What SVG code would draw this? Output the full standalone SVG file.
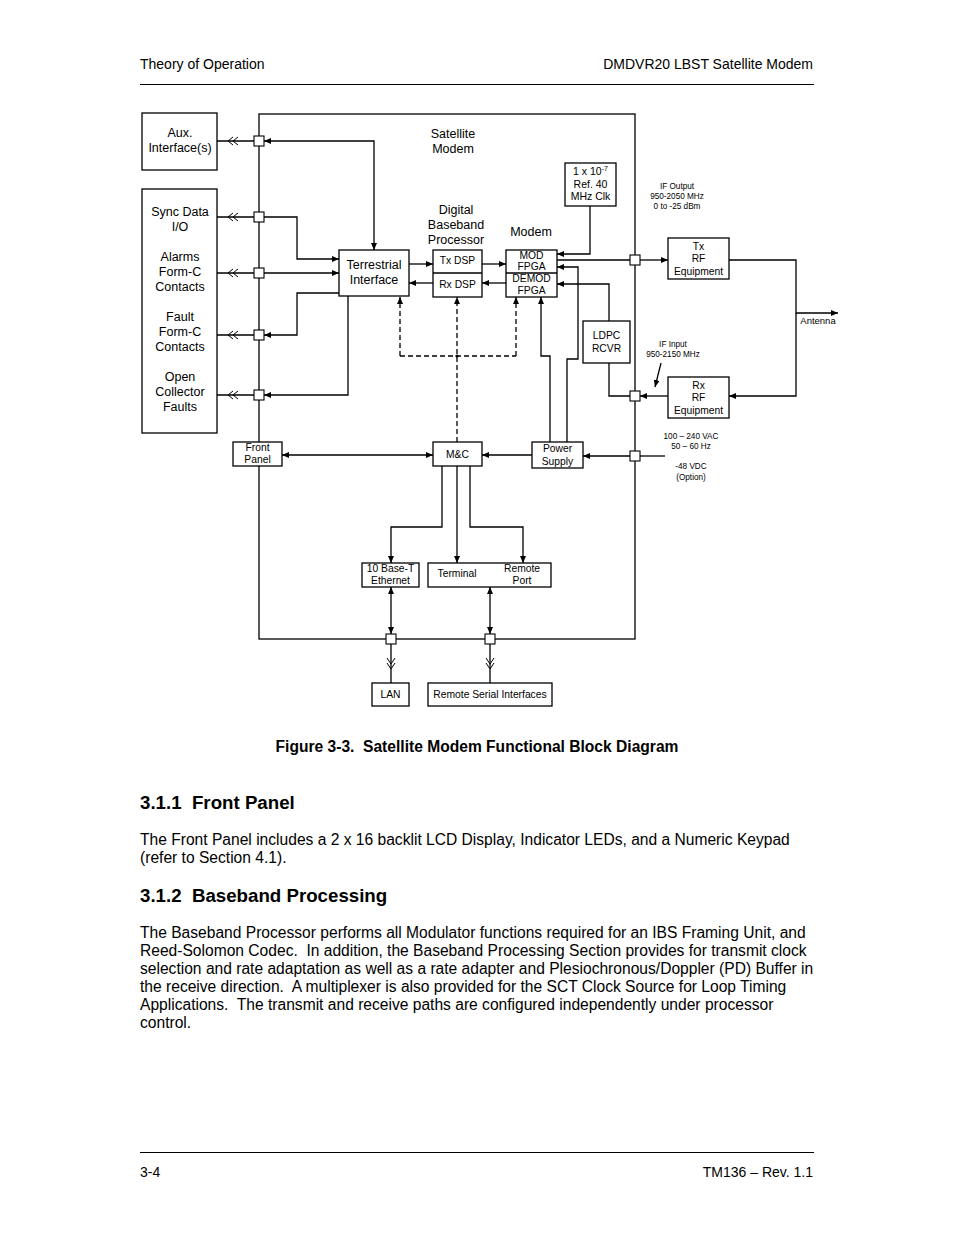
<svg xmlns="http://www.w3.org/2000/svg" width="954" height="1235" viewBox="0 0 954 1235">
<style>
text{font-family:"Liberation Sans",Arial,sans-serif;fill:#000}
.c{text-anchor:middle}
.f12{font-size:12.5px}
.f10{font-size:10.3px}
.f8{font-size:8.2px}
.ln{stroke:#000;stroke-width:1.3;fill:none}
.ar{marker-end:url(#ah)}
.ar2{marker-start:url(#ah);marker-end:url(#ah)}
.bx{fill:#fff;stroke:#000;stroke-width:1.3}
.jn{fill:#fff;stroke:#000;stroke-width:1.1}
.ds{stroke:#000;stroke-width:1.3;fill:none;stroke-dasharray:5,3}
.body{font-size:15.6px;white-space:pre}
.hd{font-size:18.7px;font-weight:bold;white-space:pre}
</style>
<defs>
<marker id="ah" markerWidth="8" markerHeight="6" refX="7" refY="3" orient="auto-start-reverse" markerUnits="userSpaceOnUse">
<path d="M0,0 L7,3 L0,6 z" fill="#000"/>
</marker>
<path id="chl" d="M5,-4 L0,0 L5,4 M10,-4 L5,0 L10,4" fill="none" stroke="#000" stroke-width="1"/>
<path id="chd" d="M-4,0 L0,6 L4,0 M-4,5 L0,11 L4,5" fill="none" stroke="#000" stroke-width="1"/>
</defs>
<rect width="954" height="1235" fill="#fff"/>

<!-- page header / footer -->
<g id="header">
<text x="140" y="69" style="font-size:14px">Theory of Operation</text>
<text x="813" y="69" style="font-size:14px;text-anchor:end">DMDVR20 LBST Satellite Modem</text>
<line x1="140" y1="84.5" x2="814" y2="84.5" stroke="#000" stroke-width="1"/>
</g>
<g id="footer">
<line x1="140" y1="1152.5" x2="814" y2="1152.5" stroke="#000" stroke-width="1"/>
<text x="140" y="1177" style="font-size:14px">3-4</text>
<text x="813" y="1177" style="font-size:14px;text-anchor:end">TM136 – Rev. 1.1</text>
</g>

<!-- satellite modem enclosure -->
<g id="satellite-modem">
<rect x="259" y="114" width="376" height="525" class="ln"/>
<text x="453" y="138" class="c f12">Satellite</text>
<text x="453" y="153" class="c f12">Modem</text>
</g>

<!-- connectors -->
<g id="connectors">
<path class="ln" d="M217,141 H254 M217,217 H254 M217,273 H254 M217,335 H254 M217,395 H254"/>
<use href="#chl" x="228" y="141"/>
<use href="#chl" x="228" y="217"/>
<use href="#chl" x="228" y="273"/>
<use href="#chl" x="228" y="335"/>
<use href="#chl" x="228" y="395"/>
<path class="ln ar2" d="M264,141 H374 V250"/>
<path class="ln ar" d="M264,217 H297 V259 H339"/>
<path class="ln ar" d="M264,273 H339"/>
<path class="ln ar" d="M339,293 H297 V335 H264"/>
<path class="ln ar" d="M348,296 V395 H264"/>
<path class="ln ar" d="M409,264 H433"/>
<path class="ln ar" d="M433,283 H409"/>
<path class="ln ar" d="M482,264 H506"/>
<path class="ln ar" d="M506,283 H482"/>
<path class="ln ar" d="M590,206 V254 H557"/>
<path class="ln" d="M557,260 H630"/>
<path class="ln ar" d="M640,260 H668"/>
<path class="ln ar" d="M567,442 V359 H578 V267 H557"/>
<path class="ln ar" d="M550,442 V356 H541 V297"/>
<path class="ln ar" d="M609,321 V284 H557"/>
<path class="ln" d="M630,396 H609 V363"/>
<path class="ln ar" d="M668,396 H640"/>
<path class="ln ar" d="M729,260 H796 V313 H838"/>
<path class="ln ar" d="M796,313 V396 H729"/>
<path class="ln ar" d="M661,363 L655,387"/>
<path class="ln" d="M665,456 H640"/>
<path class="ln ar" d="M630,456 H583"/>
<path class="ln ar" d="M532,455 H482"/>
<path class="ln ar2" d="M282,455 H433"/>
<path class="ds" d="M400,356 H516"/>
<path class="ds ar" d="M457,442 V297"/>
<path class="ds ar" d="M400,356 V297"/>
<path class="ds ar" d="M516,356 V297"/>
<circle cx="457" cy="356" r="1.6" fill="#000"/>
<path class="ln ar" d="M442,466 V527 H391 V563"/>
<path class="ln ar" d="M457,466 V563"/>
<path class="ln ar" d="M470,466 V527 H523 V563"/>
<path class="ln ar2" d="M391,587 V634"/>
<path class="ln ar2" d="M490,587 V634"/>
<path class="ln" d="M391,644 V683 M490,644 V683"/>
<use href="#chd" x="391" y="658"/>
<use href="#chd" x="490" y="658"/>
</g>

<g id="junctions">
<rect class="jn" x="254" y="136" width="10" height="10"/>
<rect class="jn" x="254" y="212" width="10" height="10"/>
<rect class="jn" x="254" y="268" width="10" height="10"/>
<rect class="jn" x="254" y="330" width="10" height="10"/>
<rect class="jn" x="254" y="390" width="10" height="10"/>
<rect class="jn" x="630" y="255" width="10" height="10"/>
<rect class="jn" x="630" y="391" width="10" height="10"/>
<rect class="jn" x="630" y="451" width="10" height="10"/>
<rect class="jn" x="386" y="634" width="10" height="10"/>
<rect class="jn" x="485" y="634" width="10" height="10"/>
</g>

<g id="aux-interface">
<rect class="bx" x="142" y="113" width="75" height="57"/>
<text x="180" y="137" class="c f12">Aux.</text>
<text x="180" y="152" class="c f12">Interface(s)</text>
</g>
<g id="io-box">
<rect class="bx" x="142" y="189" width="75" height="244"/>
<text x="180" y="216" class="c f12">Sync Data</text>
<text x="180" y="231" class="c f12">I/O</text>
<text x="180" y="261" class="c f12">Alarms</text>
<text x="180" y="276" class="c f12">Form-C</text>
<text x="180" y="291" class="c f12">Contacts</text>
<text x="180" y="321" class="c f12">Fault</text>
<text x="180" y="336" class="c f12">Form-C</text>
<text x="180" y="351" class="c f12">Contacts</text>
<text x="180" y="381" class="c f12">Open</text>
<text x="180" y="396" class="c f12">Collector</text>
<text x="180" y="411" class="c f12">Faults</text>
</g>
<g id="terrestrial-interface">
<rect class="bx" x="339" y="250" width="70" height="46"/>
<text x="374" y="269" class="c f12">Terrestrial</text>
<text x="374" y="284" class="c f12">Interface</text>
</g>
<g id="dbp">
<text x="456" y="214" class="c f12">Digital</text>
<text x="456" y="229" class="c f12">Baseband</text>
<text x="456" y="244" class="c f12">Processor</text>
<rect class="bx" x="433" y="250" width="49" height="47"/>
<line x1="433" y1="273" x2="482" y2="273" class="ln"/>
<text x="457.5" y="263.6" class="c f10">Tx DSP</text>
<text x="457.5" y="287.6" class="c f10">Rx DSP</text>
</g>
<g id="modem">
<text x="531" y="236" class="c f12">Modem</text>
<rect class="bx" x="506" y="250" width="51" height="47"/>
<line x1="506" y1="273" x2="557" y2="273" class="ln"/>
<text x="531.5" y="258.5" class="c f10">MOD</text>
<text x="531.5" y="269.8" class="c f10">FPGA</text>
<text x="531.5" y="281.5" class="c f10">DEMOD</text>
<text x="531.5" y="293.6" class="c f10">FPGA</text>
</g>
<g id="clock">
<rect class="bx" x="565" y="163" width="51" height="43"/>
<text x="590.5" y="174.5" class="c" style="font-size:10.5px">1 x 10<tspan dy="-4" style="font-size:7px">-7</tspan></text>
<text x="590.5" y="188" class="c" style="font-size:10.5px">Ref. 40</text>
<text x="590.5" y="200" class="c" style="font-size:10.5px">MHz Clk</text>
</g>
<g id="ldpc">
<rect class="bx" x="583" y="321" width="47" height="42"/>
<text x="606.5" y="339" class="c f10">LDPC</text>
<text x="606.5" y="352" class="c f10">RCVR</text>
</g>
<g id="tx-rf">
<rect class="bx" x="668" y="238" width="61" height="41"/>
<text x="698.5" y="249.5" class="c f10">Tx</text>
<text x="698.5" y="261.5" class="c f10">RF</text>
<text x="698.5" y="274.5" class="c f10">Equipment</text>
</g>
<g id="rx-rf">
<rect class="bx" x="668" y="377" width="61" height="41"/>
<text x="698.5" y="388.5" class="c f10">Rx</text>
<text x="698.5" y="400.5" class="c f10">RF</text>
<text x="698.5" y="413.5" class="c f10">Equipment</text>
</g>
<g id="labels">
<text x="677" y="189" class="c f8">IF Output</text>
<text x="677" y="199" class="c f8">950-2050 MHz</text>
<text x="677" y="209" class="c f8">0 to -25 dBm</text>
<text x="673" y="347" class="c f8">IF Input</text>
<text x="673" y="357" class="c f8">950-2150 MHz</text>
<text x="691" y="439" class="c f8">100 – 240 VAC</text>
<text x="691" y="449" class="c f8">50 – 60 Hz</text>
<text x="691" y="469" class="c f8">-48 VDC</text>
<text x="691" y="480" class="c f8">(Option)</text>
<text x="818" y="324" class="c" style="font-size:9.5px">Antenna</text>
</g>
<g id="front-panel">
<rect class="bx" x="233" y="442" width="49" height="24"/>
<text x="257.5" y="451" class="c f10">Front</text>
<text x="257.5" y="463" class="c f10">Panel</text>
</g>
<g id="mc">
<rect class="bx" x="433" y="442" width="49" height="24"/>
<text x="457.5" y="457.5" class="c f10">M&amp;C</text>
</g>
<g id="power-supply">
<rect class="bx" x="532" y="442" width="51" height="26"/>
<text x="557.5" y="452" class="c f10">Power</text>
<text x="557.5" y="464.5" class="c f10">Supply</text>
</g>
<g id="ethernet">
<rect class="bx" x="362" y="563" width="57" height="24"/>
<text x="390.5" y="571.5" class="c f10">10 Base-T</text>
<text x="390.5" y="583.5" class="c f10">Ethernet</text>
</g>
<g id="terminal">
<rect class="bx" x="428" y="563" width="123" height="24"/>
<text x="457" y="576.5" class="c f10">Terminal</text>
<text x="522" y="571.5" class="c f10">Remote</text>
<text x="522" y="583.5" class="c f10">Port</text>
</g>
<g id="lan">
<rect class="bx" x="372" y="683" width="37" height="23"/>
<text x="390.5" y="697.5" class="c f10">LAN</text>
</g>
<g id="rsi">
<rect class="bx" x="428" y="683" width="124" height="23"/>
<text x="490" y="697.5" class="c f10">Remote Serial Interfaces</text>
</g>

<g id="text-body">
<text x="477" y="752" class="c" style="font-size:15.6px;font-weight:bold;white-space:pre">Figure 3-3.  Satellite Modem Functional Block Diagram</text>
<text x="140" y="809" class="hd">3.1.1  Front Panel</text>
<text x="140" y="845" class="body">The Front Panel includes a 2 x 16 backlit LCD Display, Indicator LEDs, and a Numeric Keypad</text>
<text x="140" y="863" class="body">(refer to Section 4.1).</text>
<text x="140" y="902" class="hd">3.1.2  Baseband Processing</text>
<text x="140" y="938" class="body">The Baseband Processor performs all Modulator functions required for an IBS Framing Unit, and</text>
<text x="140" y="956" class="body">Reed-Solomon Codec.  In addition, the Baseband Processing Section provides for transmit clock</text>
<text x="140" y="974" class="body">selection and rate adaptation as well as a rate adapter and Plesiochronous/Doppler (PD) Buffer in</text>
<text x="140" y="992" class="body">the receive direction.  A multiplexer is also provided for the SCT Clock Source for Loop Timing</text>
<text x="140" y="1010" class="body">Applications.  The transmit and receive paths are configured independently under processor</text>
<text x="140" y="1028" class="body">control.</text>
</g>
</svg>
